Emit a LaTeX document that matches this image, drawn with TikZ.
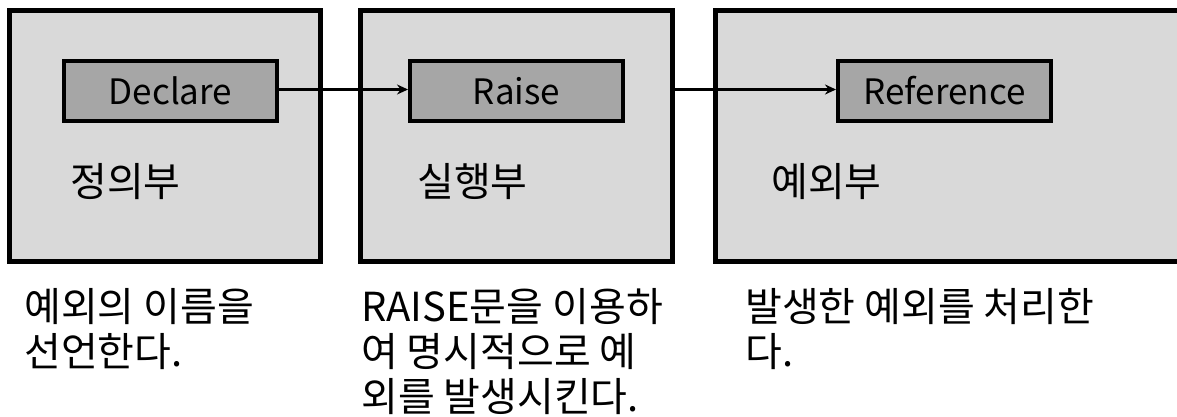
\documentclass[tikz,border=0pt]{standalone}
\usepackage{fontspec}
\setmainfont{Noto Sans CJK KR}
\usetikzlibrary{arrows.meta}
\definecolor{panelgray}{HTML}{D9D9D9}
\definecolor{taggray}{HTML}{A6A6A6}
\begin{document}
\begin{tikzpicture}[x=1pt,y=-1pt,
  panel/.style={draw=black, line width=5pt, fill=panelgray, rectangle, inner sep=0pt},
  tag/.style={draw=black, line width=4pt, fill=taggray, rectangle, inner sep=0pt,
    minimum width=213pt, minimum height=60pt, font=\fontsize{35}{40}\selectfont},
  plabel/.style={anchor=west, inner sep=0pt, font=\fontsize{40}{45}\selectfont},
  note/.style={anchor=north west, inner sep=0pt, align=left, font=\fontsize{40}{45}\selectfont},
  conn/.style={line width=3pt, -{Stealth[length=11pt,width=10pt]}}]
\useasboundingbox (0,0) rectangle (1177,417);
\clip (0,0) rectangle (1177,417);
\node[panel, minimum width=311pt, minimum height=250.5pt] (p1) at (165,135.75) {};
\node[panel, minimum width=311.5pt, minimum height=250.5pt] (p2) at (516.25,135.75) {};
\node[panel, minimum width=474.5pt, minimum height=250.5pt] (p3) at (952.75,135.75) {};
\node[tag] (d) at (170.5,91) {Declare};
\node[tag] (r) at (516.5,91) {Raise};
\node[tag] (f) at (944.5,91) {Reference};
\node[plabel] (l1) at (70,182) {정의부};
\node[plabel] (l2) at (417,182) {실행부};
\node[plabel] (l3) at (771,182) {예외부};
\node[note] (n1) at (24,288) {예외의 이름을\\선언한다.};
\node[note] (n2) at (361,288) {RAISE문을 이용하\\여 명시적으로 예\\외를 발생시킨다.};
\node[note] (n3) at (745,288) {발생한 예외를 처리한\\다.};
\draw[conn] ([yshift=1.5pt]d.east) -- ([yshift=1.5pt]r.west);
\draw[conn] ([yshift=1.5pt]p2.east |- r.east) -- ([yshift=1.5pt]f.west);
\end{tikzpicture}
\end{document}
